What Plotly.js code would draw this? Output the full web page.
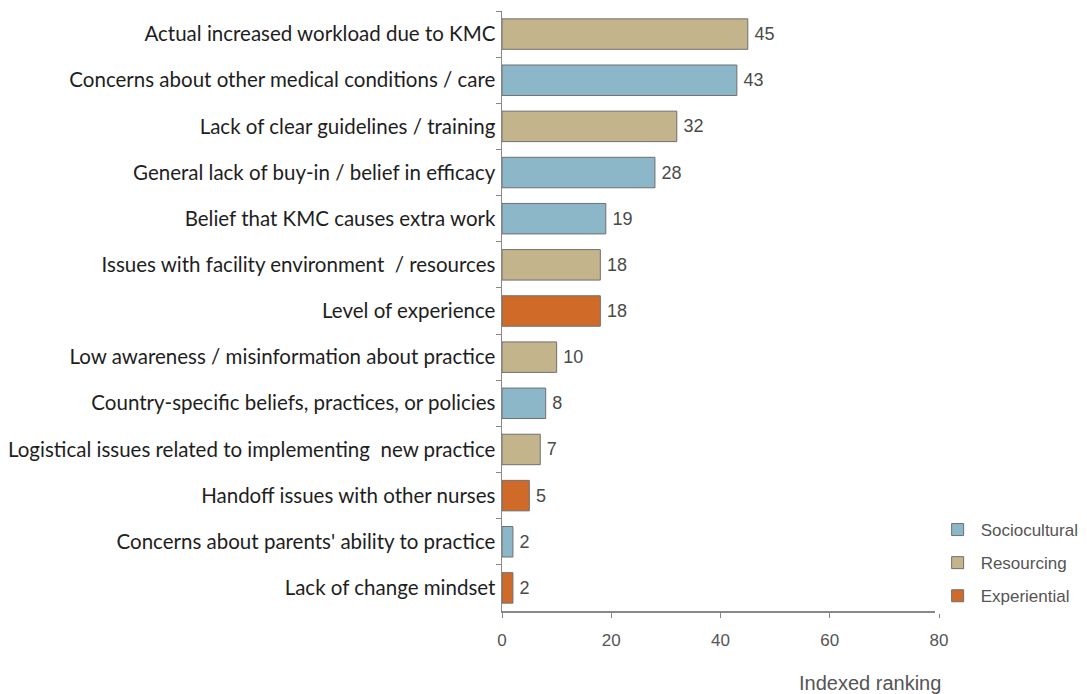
<!DOCTYPE html>
<html>
<head>
<meta charset="utf-8">
<script src="https://cdn.plot.ly/plotly-3.0.1.min.js"></script>
<style>html,body{margin:0;padding:0;background:#fff;}#chart{width:1087px;height:694px;}</style>
</head>
<body>
<div id="chart"></div>
<script>
const categories = [
  "Actual increased workload due to KMC",
  "Concerns about other medical conditions / care",
  "Lack of clear guidelines / training",
  "General lack of buy-in / belief in efficacy",
  "Belief that KMC causes extra work",
  "Issues with facility environment  / resources",
  "Level of experience",
  "Low awareness / misinformation about practice",
  "Country-specific beliefs, practices, or policies",
  "Logistical issues related to implementing  new practice",
  "Handoff issues with other nurses",
  "Concerns about parents' ability to practice",
  "Lack of change mindset"
];
const values = [45, 43, 32, 28, 19, 18, 18, 10, 8, 7, 5, 2, 2];
const groups = ["Resourcing", "Sociocultural", "Resourcing", "Sociocultural", "Sociocultural", "Resourcing", "Experiential", "Resourcing", "Sociocultural", "Resourcing", "Experiential", "Sociocultural", "Experiential"];
const groupNames = ["Sociocultural", "Resourcing", "Experiential"];
const groupColors = {Sociocultural: "#8bb7c9", Resourcing: "#c4b48c", Experiential: "#d06a28"};
const xTitle = "Indexed ranking";

const FONT = "Liberation Sans, Arial, sans-serif";

const traces = groupNames.map(g => {
  const ys = [], xs = [];
  categories.forEach((c, i) => { if (groups[i] === g) { ys.push(c); xs.push(values[i]); } });
  return {
    type: "bar", orientation: "h", name: g, y: ys, x: xs, legendgroup: g,
    text: xs.map(v => "\u2009" + v), textposition: "outside", cliponaxis: false,
    textfont: {family: FONT, size: 18, color: "#4a4a4a"},
    marker: {color: groupColors[g], line: {color: "#6f6f6f", width: 1}},
    width: 0.66
  };
});

const layout = {
  width: 1087, height: 694,
  margin: {l: 502, r: 148, t: 11, b: 83, autoexpand: false},
  paper_bgcolor: "#fff", plot_bgcolor: "#fff",
  barmode: "relative",
  showlegend: true,
  legend: {x: 0.99, y: 0.165, xanchor: "left", yanchor: "top", traceorder: "grouped",
           font: {family: FONT, size: 17, color: "#555"},
           itemwidth: 36, tracegroupgap: 8},
  xaxis: {range: [0, 80], dtick: 20, showgrid: false, zeroline: false,
          showline: true, linecolor: "#888", linewidth: 1.5,
          ticks: "outside", ticklen: 5, tickcolor: "#888",
          ticklabelstandoff: 8,
          tickfont: {family: FONT, size: 17, color: "#555"}},
  yaxis: {type: "category", categoryorder: "array", categoryarray: categories,
          autorange: "reversed", showgrid: false, zeroline: false,
          showline: true, linecolor: "#888", linewidth: 1.5,
          ticks: "outside", ticklen: 5, tickcolor: "#888", tickson: "boundaries",
          ticklabelstandoff: 1,
          tickfont: {family: "Lato, sans-serif", size: 20.5, color: "#1e1e1e"}},
  annotations: [{text: xTitle, xref: "paper", yref: "paper", x: 0.842, y: -0.12,
                 xanchor: "center", yanchor: "middle", showarrow: false,
                 font: {family: FONT, size: 20, color: "#555"}}]
};

Plotly.newPlot("chart", traces, layout, {displayModeBar: false, staticPlot: true});
</script>
</body>
</html>
